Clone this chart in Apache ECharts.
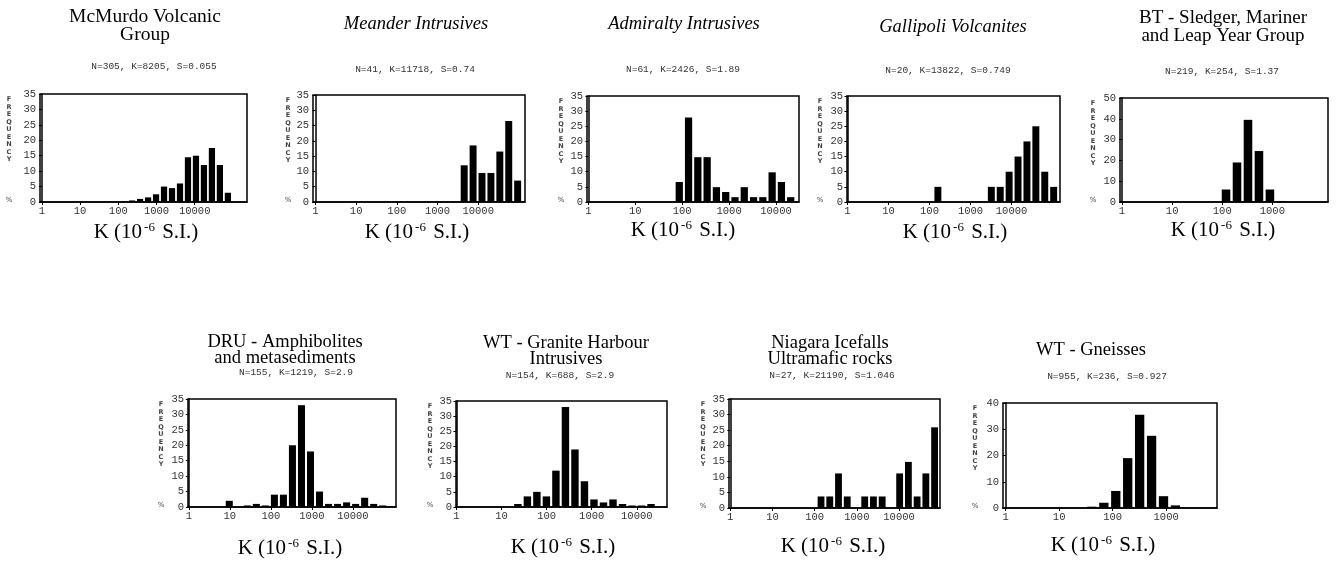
<!DOCTYPE html>
<html lang="en">
<head>
<meta charset="UTF-8">
<title>Magnetic susceptibility histograms</title>
<script src="https://cdn.jsdelivr.net/npm/echarts@6/dist/echarts.min.js"></script>
<style>
  html, body { margin: 0; background: #fff; }
  #main { width: 1336px; height: 561px; }
</style>
</head>
<body>
<div id="main"></div>
<script>
// ---- data ----
var titleLines = [
    ['McMurdo Volcanic', 'Group'],
    ['Meander Intrusives'],
    ['Admiralty Intrusives'],
    ['Gallipoli Volcanites'],
    ['BT - Sledger, Mariner', 'and Leap Year Group'],
    ['DRU - Amphibolites', 'and metasediments'],
    ['WT - Granite Harbour', 'Intrusives'],
    ['Niagara Icefalls', 'Ultramafic rocks'],
    ['WT - Gneisses']
];
var italicTitle = [false, true, true, true, false, false, false, false, false];
var stats = [
    'N=305, K=8205, S=0.055',
    'N=41, K=11718, S=0.74',
    'N=61, K=2426, S=1.89',
    'N=20, K=13822, S=0.749',
    'N=219, K=254, S=1.37',
    'N=155, K=1219, S=2.9',
    'N=154, K=688, S=2.9',
    'N=27, K=21190, S=1.046',
    'N=955, K=236, S=0.927'
];
var kTicksLong = ['1', '10', '100', '1000', '10000'];
var kTicksShort = ['1', '10', '100', '1000'];
var yMax = [35, 35, 35, 35, 50, 35, 35, 35, 40];
var yStep = [5, 5, 5, 5, 10, 5, 5, 5, 10];
// x range and bins in log10(K)
var xMin = [-0.05, -0.06, -0.03, -0.01, -0.04, -0.02, -0.01, -0.03, -0.05];
var xMax = [5.37, 5.15, 4.49, 5.18, 4.11, 5.05, 4.67, 4.97, 3.95];
var binStart = [2.28, 3.57, 1.86, 2.12, 1.99, 0.9, 1.28, 2.07, 1.525];
var binWidth = [0.209, 0.219, 0.198, 0.217, 0.219, 0.22, 0.211, 0.207, 0.223];

var freqMcMurdo = [0.5, 1, 1.5, 2.5, 5, 4.5, 6, 14.5, 15, 12, 17.5, 12, 3];
var freqMeander = [12, 18.5, 9.5, 9.5, 16.5, 26.5, 7];
var freqAdmiralty = [6.6, 27.9, 14.8, 14.8, 4.9, 3.3, 1.6, 4.9, 1.6, 1.6, 9.8, 6.6, 1.6];
var freqGallipoli = [5, 0, 0, 0, 0, 0, 5, 5, 10, 15, 20, 25, 10, 5];
var freqBT = [6, 19, 39.5, 24.5, 6, 0.5];
var freqDRU = [2, 0, 0.5, 1, 0.5, 4, 4, 20, 33, 18, 5, 1, 1, 1.5, 1, 3, 1, 0.5];
var freqGranite = [1, 3.5, 5, 3.5, 12, 33, 19, 8.5, 2.5, 1.5, 2.5, 1, 0.5, 0.5, 1];
var freqNiagara = [3.7, 3.7, 11.1, 3.7, 0, 3.7, 3.7, 3.7, 0, 11.1, 14.8, 3.7, 11.1, 25.9];
var freqGneisses = [0.5, 2, 6.5, 19, 35.5, 27.5, 4.5, 1];

var freqs = [freqMcMurdo, freqMeander, freqAdmiralty, freqGallipoli, freqBT,
    freqDRU, freqGranite, freqNiagara, freqGneisses];
var xTicks = [kTicksLong, kTicksLong, kTicksLong, kTicksLong, kTicksShort,
    kTicksLong, kTicksLong, kTicksLong, kTicksShort];

// ---- layout (pixels) ----
var grids = [
    [40, 94, 207, 108],
    [313, 95, 212, 107],
    [587, 96, 212, 106],
    [847, 96, 213, 106],
    [1120, 98, 208, 104],
    [188, 399, 208, 108],
    [456, 401, 211, 106],
    [729, 399, 211, 109],
    [1003, 403, 214, 105]
];
// [x, y, lineHeight, fontSize]
var titlePos = [[145, 26, 18, 19.5], [416, 24, 17, 18.5], [684, 24, 17, 18.5], [953, 27, 17, 18.5],
    [1223, 27, 18, 19], [285, 350, 16, 18.5], [566, 351, 16, 18.5], [830, 351, 16, 18.5],
    [1091, 350, 16, 18.5]];
var statsPos = [[154, 66], [415, 69], [683, 69], [948, 70], [1222, 71],
    [296, 372], [560, 375], [832, 375], [1107, 376]];
var kPos = [[146, 232], [417, 232], [683, 230], [955, 232], [1223, 230],
    [290, 548], [563, 547], [833, 546], [1103, 545]];
var freqLabelOffset = [-31, -25, -26, -27, -27, -27, -26, -26, -28];

var serif = '"Liberation Serif", "Times New Roman", serif';
var mono = '"Liberation Mono", "DejaVu Sans Mono", monospace';

function renderBar(params, api) {
    var h = api.value(2);
    if (!h) return null;
    var a = api.coord([api.value(0), 0]);
    var b = api.coord([api.value(1), h]);
    return {
        type: 'rect',
        shape: {x: a[0], y: b[1], width: (b[0] - a[0]) * 0.78, height: a[1] - b[1]},
        style: {fill: '#000'}
    };
}

var option = {
    animation: false,
    backgroundColor: '#fff',
    grid: [], xAxis: [], yAxis: [], series: [], graphic: []
};

for (var i = 0; i < 9; i++) {
    var g = grids[i];
    option.grid.push({
        left: g[0], top: g[1], width: g[2], height: g[3],
        show: true, borderColor: '#000', borderWidth: 1.5, backgroundColor: 'transparent'
    });
    (function (labels) {
        var vals = labels.map(function (l, k) { return k; });
        option.xAxis.push({
            type: 'value', gridIndex: i, min: xMin[i], max: xMax[i],
            splitLine: {show: false},
            axisLine: {lineStyle: {color: '#000', width: 1.5}},
            axisTick: {customValues: vals, length: 3, lineStyle: {color: '#000'}},
            axisLabel: {
                customValues: vals, margin: 4, color: '#333', fontFamily: mono, fontSize: 10.5,
                formatter: function (v) { return labels[Math.round(v)]; }
            }
        });
    })(xTicks[i]);
    option.yAxis.push({
        type: 'value', gridIndex: i, min: 0, max: yMax[i], interval: yStep[i],
        splitLine: {show: false},
        axisLine: {show: true, lineStyle: {color: '#000', width: 1.5}},
        axisTick: {show: true, length: 3, lineStyle: {color: '#000'}},
        axisLabel: {margin: 4, color: '#333', fontFamily: mono, fontSize: 10.5}
    });
    var data = freqs[i].map(function (f, k) {
        var lo = binStart[i] + k * binWidth[i];
        return [lo, lo + binWidth[i], f];
    });
    option.series.push({
        type: 'custom', xAxisIndex: i, yAxisIndex: i, clip: true,
        renderItem: renderBar, data: data
    });

    // titles
    option.graphic.push({
        type: 'text', x: titlePos[i][0], y: titlePos[i][1],
        style: {
            text: titleLines[i].join('\n'), align: 'center', verticalAlign: 'middle',
            fontFamily: serif, fontSize: titlePos[i][3], lineHeight: titlePos[i][2],
            fontStyle: italicTitle[i] ? 'italic' : 'normal', fill: '#000'
        }
    });
    option.graphic.push({
        type: 'text', x: statsPos[i][0], y: statsPos[i][1],
        style: {
            text: stats[i], align: 'center', verticalAlign: 'middle',
            fontFamily: mono, fontSize: 9.5, fill: '#333'
        }
    });
    option.graphic.push({
        type: 'text', x: kPos[i][0], y: kPos[i][1],
        style: {
            text: '{n|K (10}{s|-6}{n| S.I.)}', align: 'center', verticalAlign: 'middle',
            rich: {
                n: {fontFamily: serif, fontSize: 21, fill: '#000'},
                s: {fontFamily: serif, fontSize: 13, fill: '#000', verticalAlign: 'top', padding: [0, 2, 9, 2]}
            }
        }
    });
    // stacked axis name
    option.graphic.push({
        type: 'text', x: g[0] + freqLabelOffset[i], y: g[1] + 2,
        style: {
            text: 'F\nR\nE\nQ\nU\nE\nN\nC\nY', align: 'center', verticalAlign: 'top',
            fontFamily: '"DejaVu Sans", sans-serif', fontSize: 6.5, fontWeight: 'bold',
            lineHeight: 7.5, fill: '#444'
        }
    });
    option.graphic.push({
        type: 'text', x: g[0] + freqLabelOffset[i], y: g[1] + g[3] - 2,
        style: {
            text: '%', align: 'center', verticalAlign: 'middle',
            fontFamily: '"DejaVu Sans", sans-serif', fontSize: 7, fill: '#444'
        }
    });
}

var chart = echarts.init(document.getElementById('main'));
chart.setOption(option);
</script>
</body>
</html>
